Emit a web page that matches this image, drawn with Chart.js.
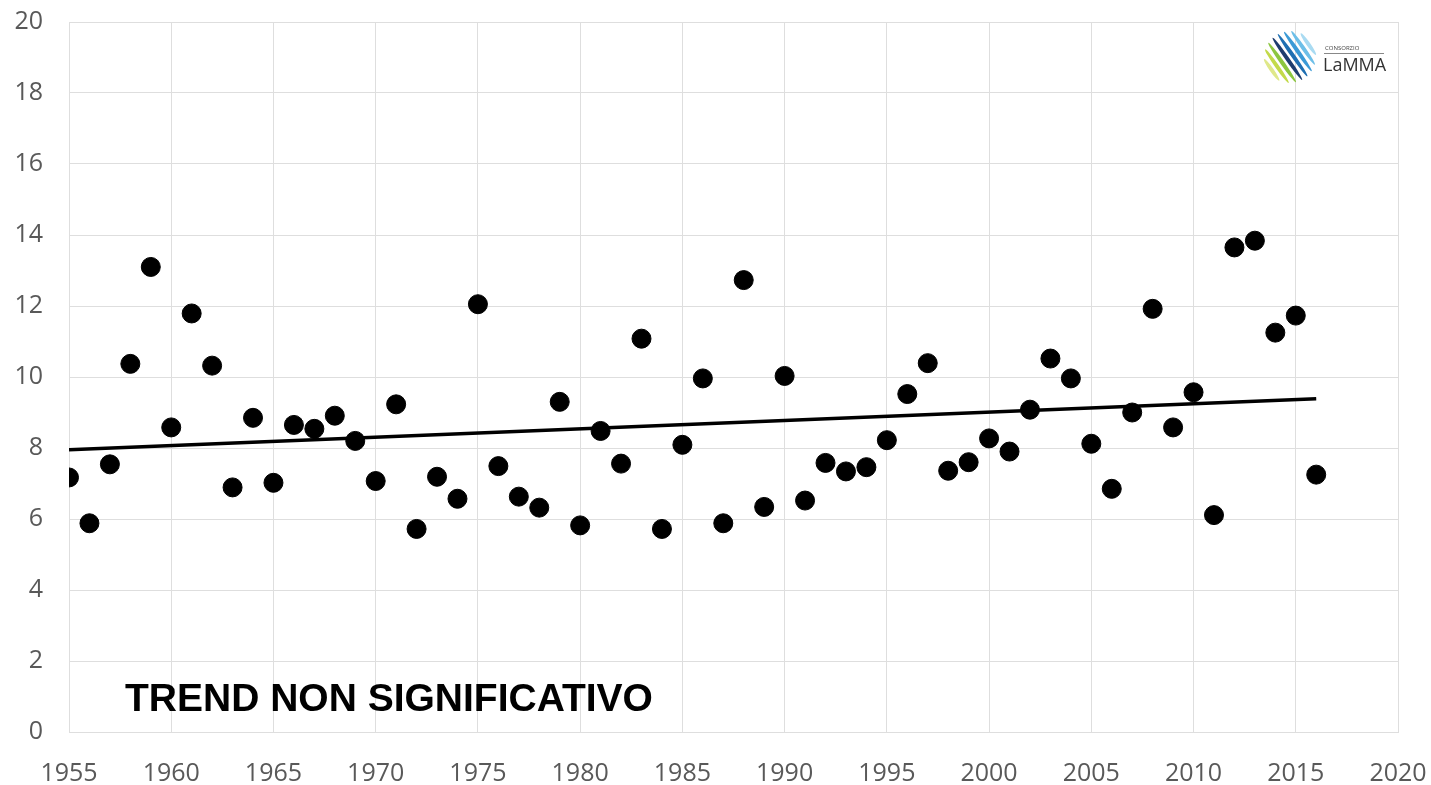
<!DOCTYPE html>
<html>
<head>
<meta charset="utf-8">
<script src="https://cdn.jsdelivr.net/npm/chart.js@4.4.1/dist/chart.umd.min.js"></script>
<style>
  html, body { margin: 0; padding: 0; background: #fff; }
  #wrap { width: 1431px; height: 785px; }
</style>
</head>
<body>
<div id="wrap"><canvas id="trendChart" width="1431" height="785"></canvas></div>
<script>
// data
const years = [1955, 1956, 1957, 1958, 1959, 1960, 1961, 1962, 1963, 1964,
  1965, 1966, 1967, 1968, 1969, 1970, 1971, 1972, 1973, 1974,
  1975, 1976, 1977, 1978, 1979, 1980, 1981, 1982, 1983, 1984,
  1985, 1986, 1987, 1988, 1989, 1990, 1991, 1992, 1993, 1994,
  1995, 1996, 1997, 1998, 1999, 2000, 2001, 2002, 2003, 2004,
  2005, 2006, 2007, 2008, 2009, 2010, 2011, 2012, 2013, 2014,
  2015, 2016];
const values = [7.17, 5.88, 7.54, 10.37, 13.1, 8.58, 11.79, 10.32, 6.89, 8.85,
  7.02, 8.65, 8.54, 8.91, 8.2, 7.07, 9.23, 5.72, 7.19, 6.57,
  12.05, 7.49, 6.63, 6.32, 9.3, 5.82, 8.48, 7.56, 11.08, 5.72,
  8.09, 9.96, 5.88, 12.73, 6.34, 10.03, 6.52, 7.58, 7.34, 7.46,
  8.22, 9.52, 10.39, 7.36, 7.6, 8.27, 7.9, 9.08, 10.52, 9.96,
  8.12, 6.85, 9.0, 11.92, 8.58, 9.57, 6.11, 13.65, 13.84, 11.25,
  11.73, 7.25];

// trend line end points
const trendYears = [1955, 2016];
const trendValues = [7.95, 9.39];

const xTickValues = [1955, 1960, 1965, 1970, 1975, 1980, 1985, 1990, 1995, 2000, 2005, 2010, 2015, 2020];
const yTickValues = [0, 2, 4, 6, 8, 10, 12, 14, 16, 18, 20];

const noteText = 'TREND NON SIGNIFICATIVO';
const logoSmall = 'CONSORZIO';
const logoBig = 'LaMMA';
const logoColors = ['#dfe88a', '#c3da4a', '#8cc63f', '#1d3c6e', '#1f6fb2', '#3b9ad6', '#6dbfe8', '#a9dbf2'];

const gridColor = '#dedede';
const tickFont = { family: '"Open Sans", sans-serif', size: 25 };

// text + logo on top of the chart
const extras = {
  id: 'extras',
  afterDraw(chart) {
    const ctx = chart.ctx;
    const a = chart.chartArea;
    ctx.save();
    ctx.fillStyle = '#000';
    ctx.font = 'bold 39px "Liberation Sans", Arial, sans-serif';
    ctx.textBaseline = 'alphabetic';
    ctx.fillText(noteText, a.left + 56, a.bottom - 21);

    // logo stripes
    const cx = a.right - 108, cy = a.top + 35, r = 26;
    const ang = 55 * Math.PI / 180;
    const nx = Math.cos(ang - Math.PI / 2), ny = Math.sin(ang - Math.PI / 2);
    logoColors.forEach((c, i) => {
      const off = (i - 3.5) * 6.4;
      const half = Math.sqrt(Math.max(r * r - off * off, 0));
      ctx.beginPath();
      ctx.ellipse(cx + nx * off, cy + ny * off, half, 2, ang, 0, Math.PI * 2);
      ctx.fillStyle = c;
      ctx.fill();
    });

    ctx.fillStyle = '#444';
    ctx.font = '6px "Open Sans", sans-serif';
    ctx.fillText(logoSmall, cx + 35, cy - 7);
    ctx.strokeStyle = '#888';
    ctx.lineWidth = 1;
    ctx.beginPath();
    ctx.moveTo(cx + 34, cy - 3.5);
    ctx.lineTo(cx + 94, cy - 3.5);
    ctx.stroke();
    ctx.fillStyle = '#333';
    ctx.font = '18px "Open Sans", sans-serif';
    ctx.fillText(logoBig, cx + 33, cy + 14);
    ctx.restore();
  }
};

new Chart(document.getElementById('trendChart'), {
  type: 'scatter',
  data: {
    datasets: [{
      label: 'valori',
      data: years.map((y, i) => ({ x: y, y: values[i] })),
      backgroundColor: '#000',
      borderColor: '#000',
      pointRadius: 9.5,
      pointHoverRadius: 9.5,
      order: 0
    }, {
      type: 'line',
      label: 'trend',
      data: trendYears.map((y, i) => ({ x: y, y: trendValues[i] })),
      borderColor: '#000',
      borderWidth: 3.5,
      pointRadius: 0,
      fill: false,
      order: 1
    }]
  },
  options: {
    responsive: false,
    devicePixelRatio: 1,
    animation: false,
    layout: { padding: { top: 22, right: 33, left: 0, bottom: 0 } },
    plugins: { legend: { display: false }, tooltip: { enabled: false } },
    scales: {
      x: {
        type: 'linear',
        min: 1955,
        max: 2020,
        afterBuildTicks: axis => { axis.ticks = xTickValues.map(v => ({ value: v })); },
        afterFit: axis => { axis.height = 53; },
        grid: { color: gridColor, drawTicks: true, tickLength: 27, tickColor: 'rgba(0,0,0,0)' },
        border: { color: gridColor },
        ticks: { color: '#595959', font: tickFont, padding: 0, maxRotation: 0, autoSkip: false,
          callback: v => String(v) }
      },
      y: {
        min: 0,
        max: 20,
        afterBuildTicks: axis => { axis.ticks = yTickValues.map(v => ({ value: v })); },
        afterFit: axis => { axis.width = 69; },
        grid: { color: gridColor, drawTicks: true, tickLength: 26, tickColor: 'rgba(0,0,0,0)' },
        border: { color: gridColor },
        ticks: { color: '#595959', font: tickFont, padding: 0, callback: v => String(v) }
      }
    }
  },
  plugins: [extras]
});
</script>
</body>
</html>
